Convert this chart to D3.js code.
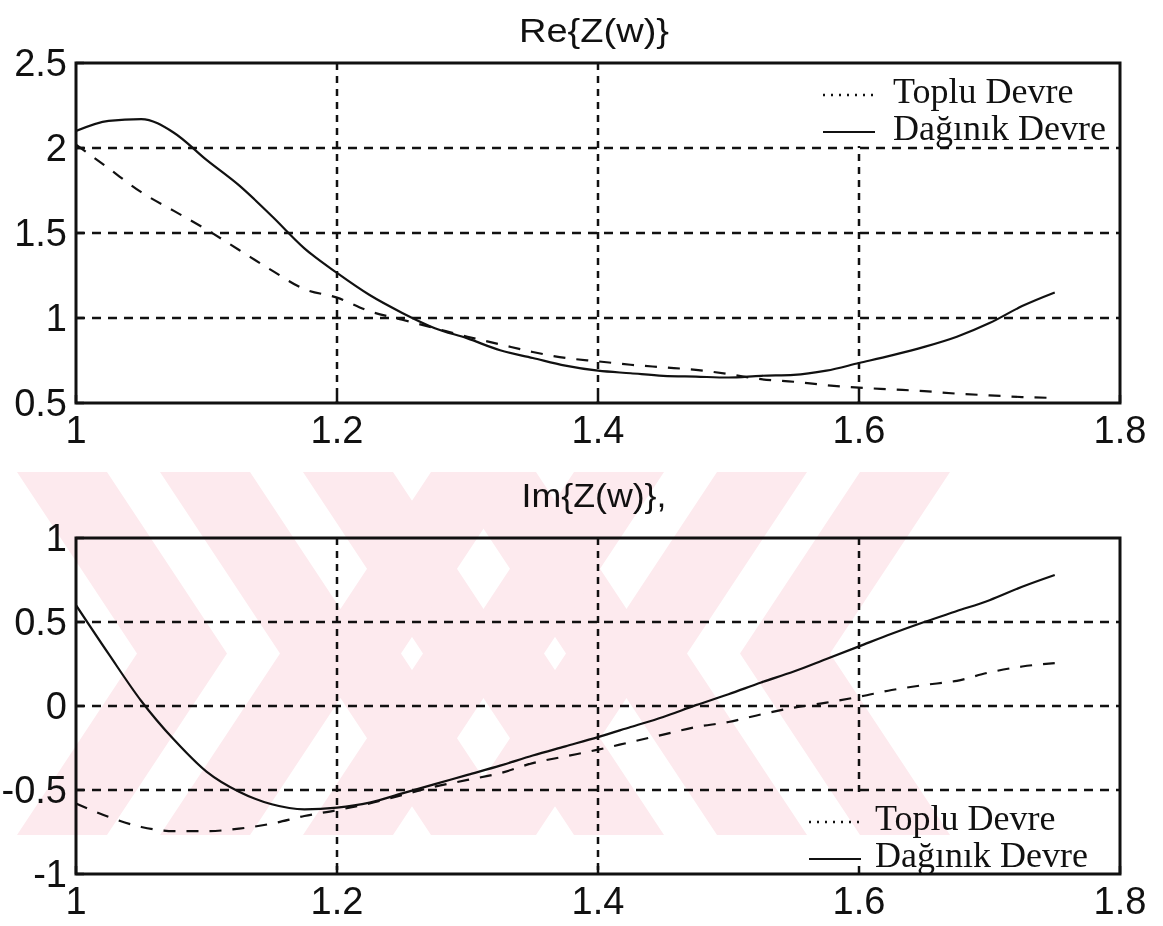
<!DOCTYPE html>
<html>
<head>
<meta charset="utf-8">
<script src="https://cdn.jsdelivr.net/npm/d3@7"></script>
<style>
  body { margin: 0; background: #fff; }
  .tick-label { font-family: "Liberation Sans", Arial, sans-serif; font-size: 38px; fill: #111; }
  .title { font-family: "Liberation Sans", Arial, sans-serif; font-size: 34px; fill: #111; }
  .legend-text { font-family: "Liberation Serif", "Times New Roman", serif; font-size: 36px; fill: #111; }
</style>
</head>
<body>
<div id="chart"></div>
<script>
// ====== Re / Im of Z(w): lumped vs distributed circuit ======

// frequency samples (x axis)
const freq = [1.0, 1.025, 1.05, 1.075, 1.1, 1.125, 1.15, 1.175, 1.2, 1.225, 1.25,
              1.275, 1.3, 1.325, 1.35, 1.375, 1.4, 1.425, 1.45, 1.475, 1.5,
              1.525, 1.55, 1.575, 1.6, 1.625, 1.65, 1.675, 1.7, 1.725, 1.75];

// Re{Z(w)}
const reToplu  = [2.02, 1.88, 1.74, 1.63, 1.52, 1.40, 1.28, 1.17, 1.12, 1.04, 0.99,
                  0.94, 0.89, 0.845, 0.80, 0.765, 0.745, 0.725, 0.71, 0.695, 0.67,
                  0.64, 0.625, 0.605, 0.59, 0.58, 0.57, 0.555, 0.545, 0.535, 0.53];
const reDaginik = [2.10, 2.16, 2.17, 2.09, 1.93, 1.78, 1.60, 1.41, 1.265, 1.135, 1.03,
                   0.94, 0.88, 0.81, 0.765, 0.72, 0.69, 0.675, 0.66, 0.655, 0.65,
                   0.66, 0.665, 0.69, 0.735, 0.78, 0.83, 0.89, 0.97, 1.07, 1.15];

// Im{Z(w)}
const imToplu  = [-0.58, -0.66, -0.72, -0.745, -0.745, -0.73, -0.70, -0.655, -0.62, -0.58, -0.53,
                  -0.48, -0.44, -0.40, -0.34, -0.30, -0.26, -0.215, -0.17, -0.125, -0.095,
                  -0.05, -0.01, 0.02, 0.055, 0.095, 0.125, 0.15, 0.20, 0.235, 0.255];
const imDaginik = [0.60, 0.31, 0.03, -0.20, -0.39, -0.51, -0.585, -0.615, -0.605, -0.575, -0.52,
                   -0.465, -0.41, -0.355, -0.295, -0.24, -0.185, -0.125, -0.065, 0.005, 0.07,
                   0.14, 0.205, 0.28, 0.355, 0.43, 0.50, 0.565, 0.63, 0.71, 0.78];

// ticks and labels
const xTicks = [1, 1.2, 1.4, 1.6, 1.8];
const reTicks = [0.5, 1, 1.5, 2, 2.5];
const imTicks = [-1, -0.5, 0, 0.5, 1];
const legendLabels = ['Toplu Devre', 'Da\u011f\u0131n\u0131k Devre'];

// watermark chevrons: top-edge left x of each stripe
const leftChevrons = [17, 160, 303, 446];
const rightChevrons = [431, 574, 717, 860];

const width = 1163, height = 926;

const svg = d3.select('#chart').append('svg')
    .attr('width', width)
    .attr('height', height);

// plain number text, with an ascii hyphen like the original
const fmt = d => String(d);

// Build one subplot
function buildPanel(opts) {
    let x = d3.scaleLinear().domain([1, 1.8]).range([opts.left, opts.right]),
        y = d3.scaleLinear().domain(opts.yDomain).range([opts.bottom, opts.top]);

    let g = svg.append('g').attr('class', 'panel');
    let clipId = 'clip-' + opts.id;

    g.append('clipPath').attr('id', clipId)
      .append('rect')
        .attr('x', opts.left).attr('y', opts.top)
        .attr('width', opts.right - opts.left)
        .attr('height', opts.bottom - opts.top);

    // grid lines (dashed)
    let grid = g.append('g').attr('clip-path', 'url(#' + clipId + ')');
    grid.selectAll('.vgrid')
        .data(xTicks.slice(1, -1))
      .enter().append('line')
        .attr('x1', d => x(d)).attr('x2', d => x(d))
        .attr('y1', opts.top).attr('y2', opts.bottom)
        .attr('stroke', '#111').attr('stroke-width', 2.5)
        .attr('stroke-dasharray', '7,6');
    grid.selectAll('.hgrid')
        .data(opts.yTicks.slice(1, -1))
      .enter().append('line')
        .attr('x1', opts.left).attr('x2', opts.right)
        .attr('y1', d => y(d)).attr('y2', d => y(d))
        .attr('stroke', '#111').attr('stroke-width', 2.5)
        .attr('stroke-dasharray', '9,7');

    // curves
    let line = (vals) => d3.line()
        .x((d, i) => x(freq[i]))
        .y(d => y(d))
        .curve(d3.curveMonotoneX)(vals);

    let curves = g.append('g').attr('clip-path', 'url(#' + clipId + ')');
    curves.append('path')
        .attr('d', line(opts.toplu))
        .attr('fill', 'none').attr('stroke', '#111').attr('stroke-width', 2.2)
        .attr('stroke-dasharray', '12,11');
    curves.append('path')
        .attr('d', line(opts.daginik))
        .attr('fill', 'none').attr('stroke', '#111').attr('stroke-width', 2.2);

    // legend (white box hides grid beneath)
    let lg = g.append('g');
    lg.append('rect')
        .attr('x', opts.legend.x0).attr('y', opts.legend.y0)
        .attr('width', opts.right - opts.legend.x0)
        .attr('height', opts.legend.y1 - opts.legend.y0)
        .attr('fill', '#fff');
    legendLabels.forEach(function(lbl, i) {
        let by = opts.legend.base + i * 37;
        lg.append('line')
            .attr('x1', opts.legend.sx).attr('x2', opts.legend.sx + 52)
            .attr('y1', by - 8).attr('y2', by - 8)
            .attr('stroke', '#111').attr('stroke-width', i === 0 ? 2.5 : 2.2)
            .attr('stroke-dasharray', i === 0 ? '2,6' : null);
        lg.append('text')
            .attr('class', 'legend-text')
            .attr('x', opts.legend.tx).attr('y', by)
            .text(lbl);
    });

    // axes box
    g.append('rect')
        .attr('x', opts.left).attr('y', opts.top)
        .attr('width', opts.right - opts.left)
        .attr('height', opts.bottom - opts.top)
        .attr('fill', 'none').attr('stroke', '#111').attr('stroke-width', 3);

    // tick marks inside the box
    g.selectAll('.xtick')
        .data(xTicks)
      .enter().append('line')
        .attr('x1', d => x(d)).attr('x2', d => x(d))
        .attr('y1', opts.bottom).attr('y2', opts.bottom - 8)
        .attr('stroke', '#111').attr('stroke-width', 2.5);
    g.selectAll('.ytick')
        .data(opts.yTicks)
      .enter().append('line')
        .attr('x1', opts.left).attr('x2', opts.left + 8)
        .attr('y1', d => y(d)).attr('y2', d => y(d))
        .attr('stroke', '#111').attr('stroke-width', 2.5);

    // tick labels
    g.selectAll('.xlabel')
        .data(xTicks)
      .enter().append('text')
        .attr('class', 'tick-label')
        .attr('x', d => x(d))
        .attr('y', opts.bottom + 40)
        .attr('text-anchor', 'middle')
        .text(fmt);
    g.selectAll('.ylabel')
        .data(opts.yTicks)
      .enter().append('text')
        .attr('class', 'tick-label')
        .attr('x', opts.left - 9)
        .attr('y', d => y(d) + 13)
        .attr('text-anchor', 'end')
        .text(fmt);

    // title
    g.append('text')
        .attr('class', 'title')
        .attr('x', (opts.left + opts.right) / 2 - 4)
        .attr('y', opts.titleY)
        .attr('text-anchor', 'middle')
        .attr('textLength', opts.titleLen)
        .attr('lengthAdjust', 'spacingAndGlyphs')
        .text(opts.title);
}

buildPanel({
    id: 're', title: 'Re{Z(w)}', titleY: 42, titleLen: 150,
    left: 76, right: 1120, top: 63, bottom: 403,
    yDomain: [0.5, 2.5], yTicks: reTicks,
    toplu: reToplu, daginik: reDaginik,
    legend: { x0: 812, y0: 64, y1: 146, sx: 823, tx: 893, base: 103 }
});

buildPanel({
    id: 'im', title: 'Im{Z(w)},', titleY: 507, titleLen: 145,
    left: 76, right: 1120, top: 538, bottom: 874,
    yDomain: [-1, 1], yTicks: imTicks,
    toplu: imToplu, daginik: imDaginik,
    legend: { x0: 792, y0: 794, y1: 873, sx: 809, tx: 875, base: 830 }
});

// ====== Watermark (pale pink chevrons, multiplied over the page) ======
const wmTop = 472, wmBottom = 835, wmMid = (wmTop + wmBottom) / 2,
      stripeW = 90, shift = 120;

const wm = svg.append('g')
    .style('mix-blend-mode', 'multiply')
    .attr('fill', '#fdeaee');

function chevron(x0, dir) {
    // dir = +1 -> '>' shape, -1 -> '<' shape
    let s = dir * shift;
    return d3.line()([
        [x0, wmTop], [x0 + stripeW, wmTop],
        [x0 + stripeW + s, wmMid], [x0 + stripeW, wmBottom],
        [x0, wmBottom], [x0 + s, wmMid]
    ]) + 'Z';
}

wm.selectAll('.chev-l')
    .data(leftChevrons)
  .enter().append('path')
    .attr('d', d => chevron(d, 1));
wm.selectAll('.chev-r')
    .data(rightChevrons)
  .enter().append('path')
    .attr('d', d => chevron(d, -1));
</script>
</body>
</html>
